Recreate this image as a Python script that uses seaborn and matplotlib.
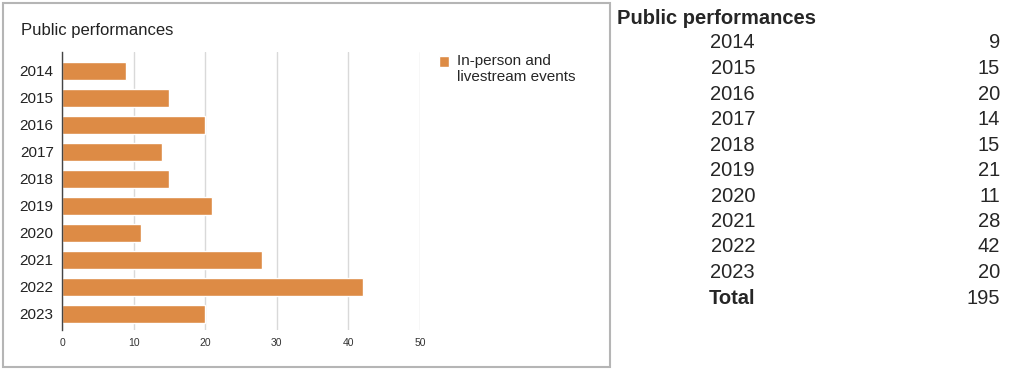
import matplotlib
matplotlib.use("Agg")
import matplotlib.pyplot as plt
from matplotlib.patches import Rectangle
from matplotlib.legend_handler import HandlerPatch
import seaborn as sns

# Data
years = ["2014", "2015", "2016", "2017", "2018", "2019", "2020", "2021", "2022", "2023"]
performances = [9, 15, 20, 14, 15, 21, 11, 28, 42, 20]
series_label = "In-person and\nlivestream events"
chart_title = "Public performances"
x_ticks = [0, 10, 20, 30, 40, 50]

bar_color = "#dd8b45"
W, H = 1024, 371

sns.set_theme(style="white")
plt.rcParams["font.family"] = ["Liberation Sans", "DejaVu Sans"]


def top_square(legend, orig_handle, xdescent, ydescent, width, height, fontsize):
    # put the legend square next to the first line of the label
    return Rectangle((-xdescent, -ydescent + 0.5 * fontsize), width, height)


fig = plt.figure(figsize=(W / 100, H / 100), dpi=100)
fig.patch.set_facecolor("white")

# chart box border
fig.add_artist(Rectangle((3 / W, 1 - 367 / H), 607 / W, 364 / H, transform=fig.transFigure,
                         fill=False, edgecolor="#b5b5b5", linewidth=1.5))

ax = fig.add_axes([62 / W, 1 - 330 / H, 358 / W, 278 / H])
sns.barplot(x=performances, y=years, orient="h", color=bar_color, width=0.66,
            saturation=1, ax=ax)

ax.set_xlim(0, 50)
ax.set_ylim(9.6, -0.7)
ax.set_xticks(x_ticks)
ax.set_xticklabels([str(t) for t in x_ticks], fontsize=7.5, color="#333333")
ax.tick_params(axis="y", labelsize=11, colors="#222222", length=0, pad=6)
ax.tick_params(axis="x", length=0, pad=6)
ax.set_xlabel("")
ax.set_ylabel("")
ax.set_axisbelow(True)
ax.grid(axis="x", color="#d9d9d9", linewidth=1)
for side in ["top", "right", "bottom"]:
    ax.spines[side].set_visible(False)
ax.spines["left"].set_color("#444444")
ax.spines["left"].set_linewidth(1)

ax.legend([ax.patches[0]], [series_label], loc="upper left", bbox_to_anchor=(439 / W, 1 - 54 / H),
          bbox_transform=fig.transFigure, frameon=False, fontsize=11,
          handlelength=0.65, handleheight=0.65, handletextpad=0.55,
          borderpad=0, borderaxespad=0, labelspacing=0.2,
          handler_map={Rectangle: HandlerPatch(patch_func=top_square)})

fig.text(21 / W, 1 - 31 / H, chart_title, fontsize=12, color="#222222", va="center", ha="left")

# table on the right
fig.text(617 / W, 1 - 18 / H, chart_title, fontsize=14.5, fontweight="bold", va="center", ha="left")
row_top = 43
row_step = 25.5
for i, (yr, val) in enumerate(zip(years, performances)):
    yy = 1 - (row_top + i * row_step) / H
    fig.text(755 / W, yy, yr, fontsize=14.5, va="center", ha="right")
    fig.text(1000 / W, yy, str(val), fontsize=14.5, va="center", ha="right")
yy = 1 - (row_top + len(years) * row_step) / H
fig.text(755 / W, yy, "Total", fontsize=14.5, fontweight="bold", va="center", ha="right")
fig.text(1000 / W, yy, str(sum(performances)), fontsize=14.5, va="center", ha="right")

fig.savefig("out.png", dpi=100)
